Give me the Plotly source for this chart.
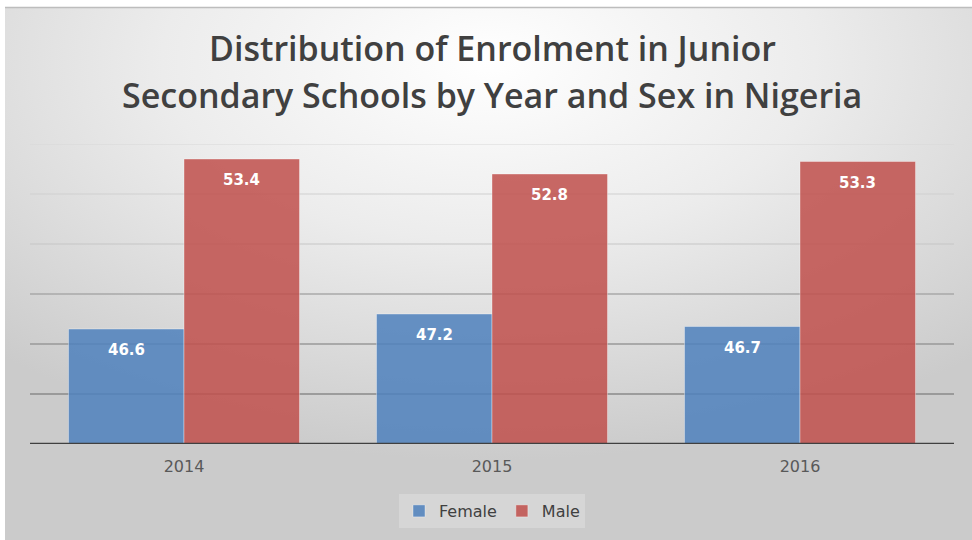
import base64
import plotly.graph_objects as go

# Enrolment shares (%) in junior secondary schools
years = ["2014", "2015", "2016"]
female = [46.6, 47.2, 46.7]
male = [53.4, 52.8, 53.3]

# Value axis (Excel-style truncated axis)
y_min, y_max, y_step = 42, 54, 2
grid_values = [44, 46, 48, 50, 52, 54]
grid_colors = ["#8a8a8a", "#989898", "#a9a9a9", "#c6c6c6", "#d0d0d0", "#d8d8d8"]

title_lines = ["Distribution of Enrolment in Junior",
               "Secondary Schools by Year and Sex in Nigeria"]

W, H = 972, 540
M_L, M_R, M_T, M_B = 30, 18, 144, 96
BARGAP = 0.25
plot_w = W - M_L - M_R
plot_h = H - M_T - M_B


def paper_y(px):
    """Convert a pixel row (from the top of the page) to paper y."""
    return (H - M_B - px) / plot_h


def paper_x(px):
    return (px - M_L) / plot_w


# Soft radial background, as in the Office chart style
svg = f"""<svg xmlns='http://www.w3.org/2000/svg' width='{W}' height='{H}'>
<defs><radialGradient id='g' cx='0.5' cy='0.1' r='0.75'>
<stop offset='0' stop-color='#ffffff'/>
<stop offset='0.45' stop-color='#ececec'/>
<stop offset='1' stop-color='#cbcbcb'/>
</radialGradient></defs>
<rect width='{W}' height='{H}' fill='url(#g)'/></svg>"""
bg_src = "data:image/svg+xml;base64," + base64.b64encode(svg.encode()).decode()

fig = go.Figure()
fig.add_bar(name="Female", x=years, y=female,
            marker=dict(color="rgba(79,129,189,0.86)",
                        line=dict(color="rgba(255,255,255,0.45)", width=0.8)))
fig.add_bar(name="Male", x=years, y=male,
            marker=dict(color="rgba(192,80,77,0.86)",
                        line=dict(color="rgba(255,255,255,0.45)", width=0.8)))

# Data labels just inside the top of each bar (x given as category index)
cat_w = plot_w / len(years)
bar_w = cat_w * (1 - BARGAP) / 2
annotations = []
for series, shift in ((female, -bar_w / 2), (male, bar_w / 2)):
    for i, v in enumerate(series):
        annotations.append(dict(
            x=i, y=v, xref="x", yref="y", text=f"{v:.1f}", showarrow=False,
            xshift=shift, yshift=-21, yanchor="middle",
            font=dict(family="DejaVu Sans", size=15, color="white", weight="bold")))

# Two-line chart title
for line, px in zip(title_lines, (48, 95)):
    annotations.append(dict(
        x=0.5, xref="paper", y=paper_y(px), yref="paper", yanchor="middle",
        text=line, showarrow=False, xanchor="center",
        font=dict(family="Open Sans", size=34, color="#404040", weight=600)))

shapes = []
for v, c in zip(grid_values, grid_colors):
    shapes.append(dict(type="line", xref="paper", x0=0, x1=1, yref="y", y0=v, y1=v,
                       line=dict(color=c, width=1.5 if v <= 48 else 1.2), layer="below"))
shapes.append(dict(type="line", xref="paper", x0=0, x1=1, yref="y", y0=y_min, y1=y_min,
                   line=dict(color="#404040", width=2.5), layer="above"))
# thin frame line along the top of the chart
shapes.append(dict(type="line", xref="paper", yref="paper",
                   x0=paper_x(5), x1=paper_x(W), y0=paper_y(7.5), y1=paper_y(7.5),
                   line=dict(color="#bdbdbd", width=1.5), layer="above"))

fig.update_layout(
    width=W, height=H,
    margin=dict(l=M_L, r=M_R, t=M_T, b=M_B, pad=0),
    paper_bgcolor="white", plot_bgcolor="rgba(0,0,0,0)",
    barmode="group", bargap=BARGAP, bargroupgap=0,
    images=[dict(source=bg_src, xref="paper", yref="paper",
                 x=paper_x(5), y=paper_y(8), sizex=(W - 5) / plot_w,
                 sizey=(H - 8) / plot_h, sizing="stretch", layer="below",
                 xanchor="left", yanchor="top")],
    xaxis=dict(type="category", showgrid=False, showline=False, ticks="", zeroline=False,
               range=[-0.5, len(years) - 0.5],
               tickfont=dict(family="DejaVu Sans", size=16, color="#595959"),
               ticklabelstandoff=11),
    yaxis=dict(range=[y_min, y_max], dtick=y_step, showgrid=False, zeroline=False,
               showticklabels=False, ticks=""),
    legend=dict(orientation="h", x=0.5, xanchor="center", y=paper_y(494), yanchor="top",
                bgcolor="rgba(255,255,255,0.22)", borderwidth=0,
                font=dict(family="DejaVu Sans", size=16, color="#404040"),
                itemwidth=30, traceorder="normal"),
    annotations=annotations,
    shapes=shapes,
    showlegend=True,
)

fig.write_html("out.html")
